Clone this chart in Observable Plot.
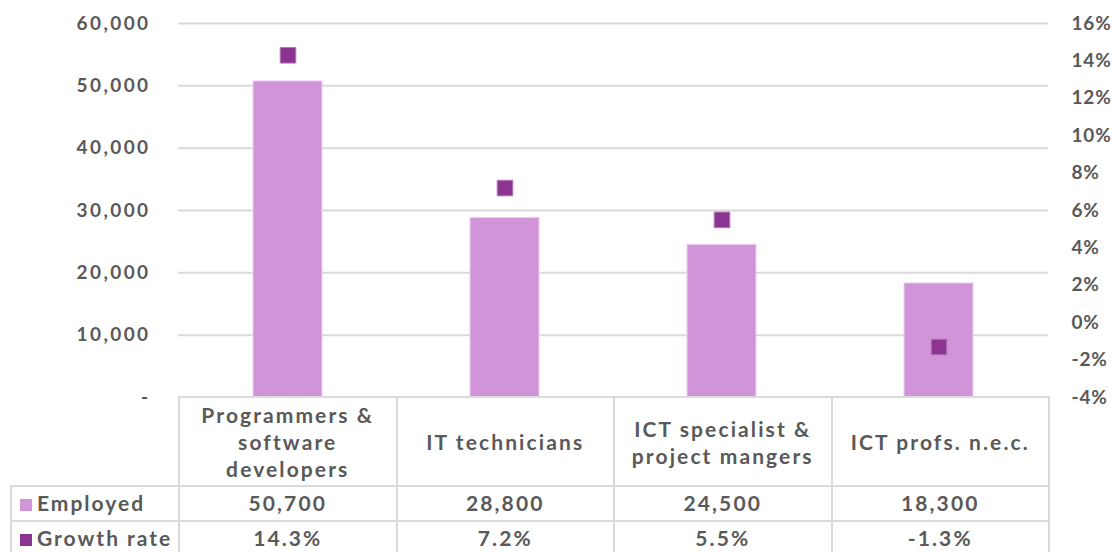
<!DOCTYPE html>
<html>
<head>
<meta charset="utf-8">
<script src="https://cdn.jsdelivr.net/npm/d3@7"></script>
<script src="https://cdn.jsdelivr.net/npm/@observablehq/plot@0.6"></script>
<style>
  html, body { margin: 0; padding: 0; background: #fff; }
  #wrap { position: relative; width: 1115px; height: 552px; overflow: hidden; font-family: Lato, "Open Sans", sans-serif; color: #595959; }
  #chart { position: absolute; left: 0; top: 0; }
  #tbl { position: absolute; left: 10px; top: 396px; border-collapse: collapse; table-layout: fixed; width: 1038px; font-size: 21px; font-weight: 700; letter-spacing: 2.1px; }
  #tbl td { border: 2px solid #dadada; text-align: center; padding: 0; }
  #tbl tr.head td { height: 87px; line-height: 27px; }
  #tbl tr.row td { height: 30px; padding-bottom: 3px; }
  #tbl td.corner { border-top: none; border-left: none; }
  #tbl td.lab { text-align: left; padding-left: 8px; white-space: nowrap; letter-spacing: 2px; }
  .sw { display: inline-block; width: 12px; height: 12px; margin-right: 5px; vertical-align: 0px; }
  #chart .raxis { letter-spacing: 0.8px; }
</style>
</head>
<body>
<div id="wrap">
  <div id="chart"></div>
  <table id="tbl"></table>
</div>
<script>
const categories = ["Programmers & software developers", "IT technicians", "ICT specialist & project mangers", "ICT profs. n.e.c."];
const headerLines = [["Programmers &", "software", "developers"], ["IT technicians"], ["ICT specialist &", "project mangers"], ["ICT profs. n.e.c."]];
const employed = [50700, 28800, 24500, 18300];
const growth = [14.3, 7.2, 5.5, -1.3];
const leftTicks = [0, 10000, 20000, 30000, 40000, 50000, 60000];
const rightTicks = [-4, -2, 0, 2, 4, 6, 8, 10, 12, 14, 16];
const seriesNames = ["Employed", "Growth rate"];
const colors = ["#d194d8", "#8b3490"];

const data = categories.map((c, i) => ({cat: c, employed: employed[i], growth: growth[i]}));
// growth axis [-4, 16] mapped onto employed axis [0, 60000]
const toLeft = g => (g + 4) * 3000;
const fromLeft = v => Math.round(v / 3000 - 4);

const chart = Plot.plot({
  width: 1115,
  height: 420,
  marginTop: 23,
  marginBottom: 23,
  marginLeft: 178,
  marginRight: 67,
  style: {fontFamily: "Lato, 'Open Sans', sans-serif", fontSize: "19px", fontWeight: 700, color: "#595959", background: "#fff", letterSpacing: "2.4px"},
  x: {domain: categories, paddingInner: 0.68, paddingOuter: 0.34, align: 0.5, axis: null},
  y: {domain: [0, 60000], axis: null},
  marks: [
    Plot.ruleY(leftTicks.filter(d => d > 0), {stroke: "#d9d9d9", strokeWidth: 2, strokeOpacity: 1}),
    Plot.axisY(leftTicks, {anchor: "left", label: null, tickSize: 0, tickPadding: 28, tickFormat: d => d === 0 ? "-" : d3.format(",")(d)}),
    Plot.axisY(rightTicks.map(toLeft), {anchor: "right", label: null, className: "raxis", tickSize: 0, tickPadding: 23, tickFormat: v => `${fromLeft(v)}%`}),
    Plot.barY(data, {x: "cat", y: "employed", fill: colors[0], stroke: "#ecd0ef", strokeWidth: 1}),
    Plot.dot(data, {x: "cat", y: d => toLeft(d.growth), symbol: "square", r: 8.8, fill: colors[1], stroke: "#b577ba", strokeWidth: 1})
  ]
});
document.getElementById("chart").append(chart);

// data table below the plot
const tbl = document.getElementById("tbl");
const colg = document.createElement("colgroup");
[168, 217.5, 217.5, 217.5, 217.5].forEach(w => { const c = document.createElement("col"); c.style.width = w + "px"; colg.append(c); });
tbl.append(colg);
const head = document.createElement("tr"); head.className = "head";
const corner = document.createElement("td"); corner.className = "corner"; head.append(corner);
headerLines.forEach(lines => { const td = document.createElement("td"); td.innerHTML = lines.join("<br>"); head.append(td); });
tbl.append(head);
const fmtE = d3.format(",");
const rows = [employed.map(v => fmtE(v)), growth.map(v => v.toFixed(1) + "%")];
rows.forEach((vals, r) => {
  const tr = document.createElement("tr"); tr.className = "row";
  const lab = document.createElement("td"); lab.className = "lab";
  const sw = document.createElement("span"); sw.className = "sw"; sw.style.background = colors[r];
  lab.append(sw, document.createTextNode(seriesNames[r]));
  tr.append(lab);
  vals.forEach(v => { const td = document.createElement("td"); td.textContent = v; tr.append(td); });
  tbl.append(tr);
});
</script>
</body>
</html>
